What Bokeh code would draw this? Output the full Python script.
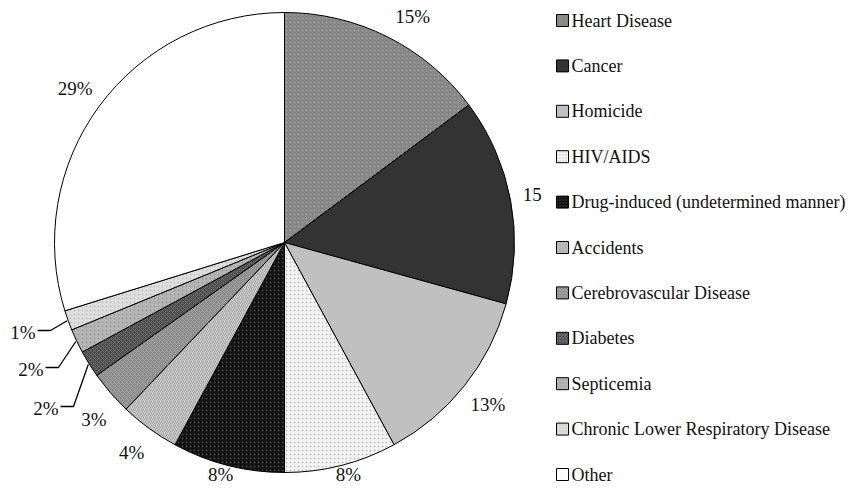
import math
from bokeh.plotting import figure
from bokeh.models import Range1d, ColumnDataSource
from bokeh.core.properties import value
from bokeh.embed import file_html
from bokeh.resources import INLINE

# ---------------- data ----------------
categories = [
    "Heart Disease",
    "Cancer",
    "Homicide",
    "HIV/AIDS",
    "Drug-induced (undetermined manner)",
    "Accidents",
    "Cerebrovascular Disease",
    "Diabetes",
    "Septicemia",
    "Chronic Lower Respiratory Disease",
    "Other",
]
shares = [14.8, 14.5, 12.8, 7.9, 7.9, 4.2, 3.1, 1.9, 1.7, 1.4, 29.8]
pct_labels = ["15%", "15%", "13%", "8%", "8%", "4%", "3%", "2%", "2%", "1%", "29%"]

# ---------------- styles ----------------
fill_colors = ["#868686", "#333333", "#c0c0c0", "#f4f4f4", "#111111", "#cacaca",
               "#8c8c8c", "#4c4c4c", "#b6b6b6", "#dedede", "#ffffff"]
hatch_patterns = ["dot", "blank", "blank", "dot", "dot", "right_diagonal_line",
                  "diagonal_cross", "diagonal_cross", "dot", "dot", "blank"]
hatch_colors = ["#9c9c9c", "#333333", "#c0c0c0", "#c4c4c4", "#444444", "#a8a8a8",
                "#a0a0a0", "#6c6c6c", "#9a9a9a", "#c4c4c4", "#ffffff"]

FONT = "Liberation Serif"
W, H = 846, 485


def Y(y_ref):
    # picture pixel row -> data y (y up)
    return H - y_ref


SHIFT = -4                      # pull the pie up slightly so all labels fit
CX, CY_REF, R = 284, 246 + SHIFT, 230
CY = Y(CY_REF)
LABEL_R = 260
LABEL_MAX_ROW = 474             # keep bottom labels inside the canvas
LABEL_NUDGE_DEG = {0: 2.9, 6: -2.0}   # label placement tweaks (layout only)

p = figure(width=W, height=H, output_backend="svg", toolbar_location=None,
           x_range=Range1d(0, W), y_range=Range1d(0, H), min_border=0)
p.axis.visible = False
p.grid.visible = False
p.outline_line_color = None
p.background_fill_color = "white"
p.border_fill_color = "white"

# wedge angles: clockwise from 12 o'clock
total = sum(shares)
starts, ends, mids = [], [], []
cum = 0.0
for s in shares:
    a0 = cum / total
    cum += s
    a1 = cum / total
    starts.append(math.pi / 2 - 2 * math.pi * a1)
    ends.append(math.pi / 2 - 2 * math.pi * a0)
    mids.append(2 * math.pi * (a0 + a1) / 2)  # clockwise from top

src = ColumnDataSource(dict(start=starts, end=ends, fill=fill_colors,
                            hatch=hatch_patterns, hcolor=hatch_colors))
p.wedge(x=CX, y=CY, radius=R, start_angle="start", end_angle="end",
        direction="anticlock", source=src, fill_color="fill",
        line_color="black", line_width=1, hatch_pattern="hatch",
        hatch_color="hcolor", hatch_scale=4, hatch_weight=1)

# ---------------- percentage labels ----------------
leader_idx = [7, 8, 9]
# label right edges / centre rows for the small slices (layout)
leader_pos = {7: (58, 412 + SHIFT), 8: (43, 373 + SHIFT), 9: (35, 336 + SHIFT)}

lx, ly, lt = [], [], []
for i, t in enumerate(pct_labels):
    if i in leader_idx:
        continue
    th = mids[i] + math.radians(LABEL_NUDGE_DEG.get(i, 0.0))
    lx.append(CX + LABEL_R * math.sin(th))
    ly.append(max(CY + LABEL_R * math.cos(th), Y(LABEL_MAX_ROW)))
    lt.append(t)
p.text(x=lx, y=ly, text=lt, text_font=value(FONT), text_font_size="19px",
       text_align="center", text_baseline="middle", text_color="#111111")

rx, ry, rt = [], [], []
for i in leader_idx:
    xr, yr = leader_pos[i]
    rx.append(xr)
    ry.append(Y(yr))
    rt.append(pct_labels[i])
    th = mids[i]
    ex = CX + (R + 1) * math.sin(th)
    ey = CY + (R + 1) * math.cos(th)
    ly0 = Y(yr - 2)
    p.line(x=[xr + 2, xr + 15, ex], y=[ly0, ly0, ey], line_color="black",
           line_width=1.3)
p.text(x=rx, y=ry, text=rt, text_font=value(FONT), text_font_size="19px",
       text_align="right", text_baseline="middle", text_color="#111111")

# legend backdrop (clips the overlapping label like the original)
p.quad(left=541, right=W + 5, top=H + 5, bottom=-5,
       fill_color="white", line_color=None)

# ---------------- legend ----------------
ROW0, ROW_STEP = 20, 45.4
leg_y = [Y(ROW0 + i * ROW_STEP) for i in range(len(categories))]
leg_src = ColumnDataSource(dict(y=leg_y, fill=fill_colors, hatch=hatch_patterns,
                                hcolor=hatch_colors, name=categories))
p.scatter(x=562, y="y", marker="square", size=12, source=leg_src,
          fill_color="fill", line_color="black", line_width=1,
          hatch_pattern="hatch", hatch_color="hcolor", hatch_scale=3,
          hatch_weight=1)
p.text(x=571, y="y", text="name", source=leg_src, text_font=value(FONT),
       text_font_size="18px", text_align="left", text_baseline="middle",
       text_color="#111111")

open("out.html", "w").write(file_html(p, INLINE))
